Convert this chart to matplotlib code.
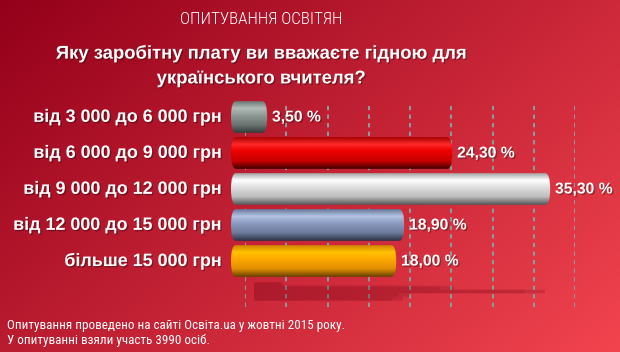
import numpy as np
import matplotlib.pyplot as plt
import matplotlib.patheffects as pe
from matplotlib import font_manager
from matplotlib.colors import LinearSegmentedColormap, to_rgb
from matplotlib.patches import FancyBboxPatch

# survey data
categories = ['від 3 000 до 6 000 грн', 'від 6 000 до 9 000 грн', 'від 9 000 до 12 000 грн',
              'від 12 000 до 15 000 грн', 'більше 15 000 грн']
values = [3.5, 24.3, 35.3, 18.9, 18.0]
value_labels = ['3,50 %', '24,30 %', '35,30 %', '18,90 %', '18,00 %']
grid_ticks = [0, 5, 10, 15, 20, 25, 30, 35, 40]

# cylinder shading, top -> bottom
bar_shades = [
    ['#6d7874', '#b2bcb8', '#919b97', '#6b7471', '#353b39'],
    ['#a80000', '#ff2a2a', '#ee0000', '#c80000', '#420000'],
    ['#a4a4a4', '#ffffff', '#e2e2e2', '#bcbcbc', '#555555'],
    ['#687898', '#b4c4e4', '#8e9ec2', '#6c7a9a', '#2a3244'],
    ['#d08400', '#ffc400', '#ffaa00', '#e08e00', '#664000'],
]

# pick a narrow face for the thin texts if one is around
have = {f.name for f in font_manager.fontManager.ttflist}
narrow = [n for n in ['Liberation Sans Narrow', 'Roboto Condensed', 'Arimo Narrow'] if n in have]
if narrow:
    thin_font = dict(family=[narrow[0], 'DejaVu Sans'])
else:
    thin_font = dict(family=['DejaVu Sans'], stretch='condensed')

W, H = 620, 352
fig = plt.figure(figsize=(W / 100, H / 100), dpi=100)
renderer = fig.canvas.get_renderer()


def px_axes(x0, y0, x1, y1):
    # axes placed in pixel coords (origin top-left)
    return fig.add_axes([x0 / W, 1 - y1 / H, (x1 - x0) / W, (y1 - y0) / H])


def fit_width(txt, width_px):
    # shrink/grow font so the widest line is width_px
    w = txt.get_window_extent(renderer).width
    txt.set_fontsize(txt.get_fontsize() * width_px / w)


# background gradient
bg = fig.add_axes([0, 0, 1, 1])
gx, gy = np.meshgrid(np.linspace(0, 1, 300), np.linspace(0, 1, 200))
t = 0.6 * gx + 0.4 * gy
c0, c1 = np.array(to_rgb('#94001a')), np.array(to_rgb('#f2444f'))
img = c0 + (c1 - c0) * t[..., None]
bg.imshow(img, extent=(0, 1, 0, 1), aspect='auto', origin='upper')
bg.set_xlim(0, 1)
bg.set_ylim(0, 1)
bg.axis('off')

# back wall gridlines
gax = px_axes(245, 104, 575, 307)
gax.vlines(grid_ticks, 0, 1, colors='#87a09e', linestyles=(0, (2.2, 2.2)), lw=1.4)
gax.set_xlim(0, 40)
gax.set_ylim(0, 1)
gax.axis('off')

# floor reflection, soft edges from stacked thin layers
fax = px_axes(254, 282, 584, 301)
for i, v in enumerate(values):
    for hh in (1.4, 1.0, 0.6):
        fax.barh(i, v, height=hh, color='#5a0010', alpha=0.06, lw=0)
        fax.barh(i, v * 0.93, height=hh, color='#5a0010', alpha=0.03, lw=0)
fax.set_xlim(0, 40)
fax.set_ylim(4.6, -0.6)
fax.axis('off')

# bars
px_per_x = 8.9
px_per_y = 36.0
h = 0.88
cap = 5 / px_per_x
ax = px_axes(231, 99, 620, 279)
shadow = [pe.withSimplePatchShadow(offset=(1, -1), shadow_rgbFace='k', alpha=0.3)]
for i, v in enumerate(values):
    cmap = LinearSegmentedColormap.from_list('c%d' % i,
                                             list(zip([0, 0.22, 0.42, 0.75, 1.0], bar_shades[i])))
    box = FancyBboxPatch((-cap, i - h / 2), v + cap, h,
                         boxstyle='round,pad=0,rounding_size=%f' % cap,
                         mutation_aspect=(h / 2) / cap,
                         facecolor='none', edgecolor='none')
    ax.add_patch(box)
    grad = np.linspace(0, 1, 64)[:, None] * np.ones((1, 2))
    im = ax.imshow(grad, extent=(-cap, v, i + h / 2, i - h / 2), aspect='auto',
                   cmap=cmap, origin='upper', interpolation='bilinear')
    im.set_clip_path(box)
    ax.annotate(value_labels[i], (v, i), xytext=(3.5, 0), textcoords='offset points',
                va='center', ha='left', color='white', fontsize=11.3, fontweight='bold',
                family='Liberation Sans', path_effects=shadow)
    fig.text(222 / W, 1 - (99 + (i + 0.5) * px_per_y) / H, categories[i],
             ha='right', va='center', color='white', fontsize=12.9, fontweight='bold',
             family='Liberation Sans', path_effects=shadow)
ax.set_xlim(-cap, 384 / px_per_x)
ax.set_ylim(4.5, -0.5)
ax.axis('off')

# titles
t1 = fig.text(261 / W, 1 - 19 / H, 'ОПИТУВАННЯ ОСВІТЯН', ha='center', va='center',
              color='white', fontsize=12.5, fontweight='light', **thin_font)
fit_width(t1, 163)
fig.text(261 / W, 1 - 66 / H, 'Яку заробітну плату ви вважаєте гідною для\nукраїнського вчителя?',
         ha='center', va='center', color='white', fontsize=13.3, fontweight='bold',
         family='Liberation Sans', linespacing=1.6, path_effects=shadow)

# footer
t3 = fig.text(7 / W, 1 - 333 / H,
              'Опитування проведено на сайті Освіта.ua у жовтні 2015 року.\nУ опитуванні взяли участь 3990 осіб.',
              ha='left', va='center', color='white', fontsize=11, linespacing=1.2, **thin_font)
fit_width(t3, 335)

fig.savefig('out.png', dpi=100)
